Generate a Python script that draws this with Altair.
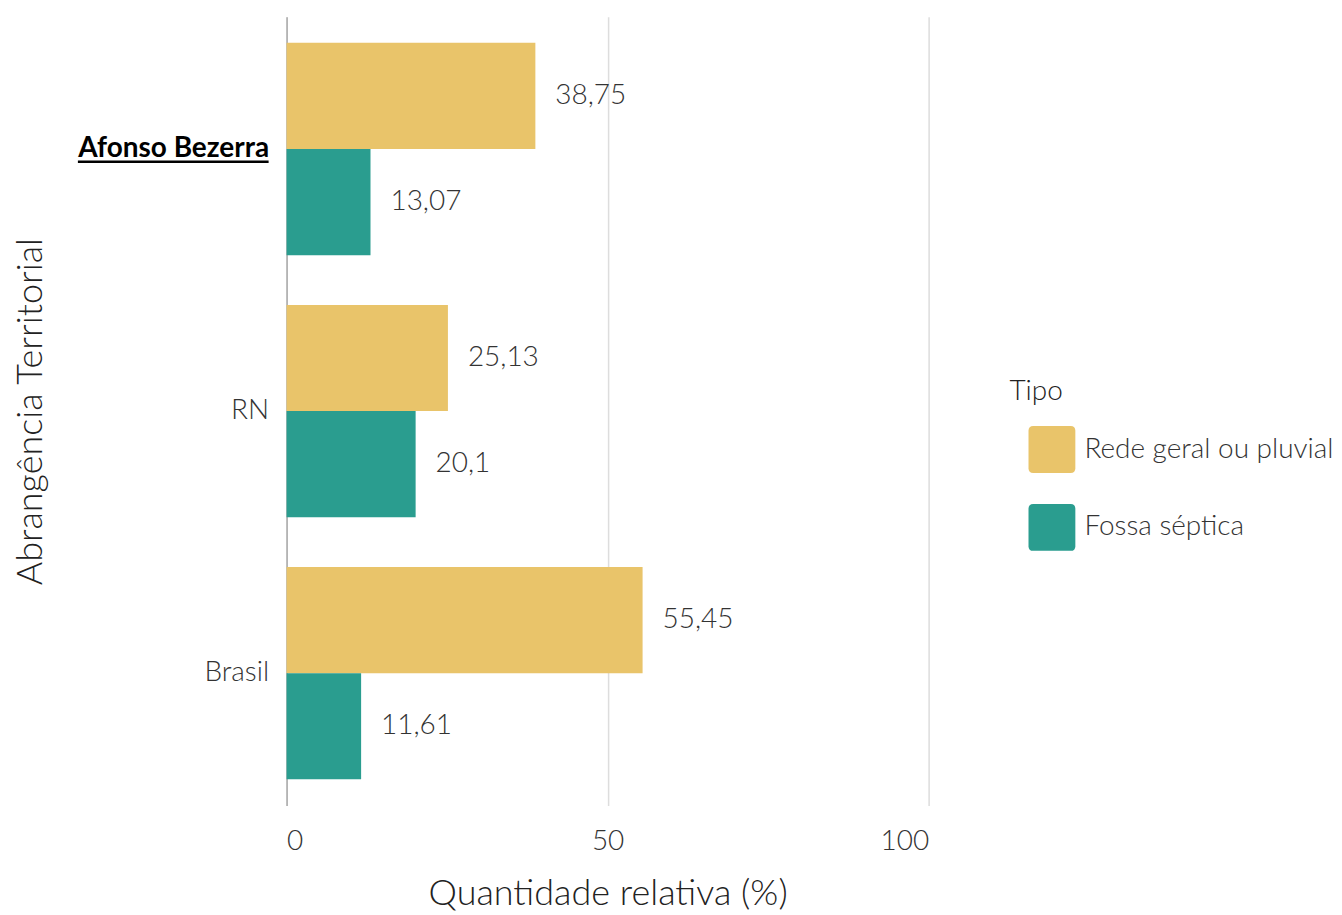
import altair as alt
import pandas as pd

regioes = ["Afonso Bezerra", "RN", "Brasil"]
tipos = ["Rede geral ou pluvial", "Fossa séptica"]
rede = [38.75, 25.13, 55.45]
fossa = [13.07, 20.1, 11.61]
cores = ["#E9C46A", "#2A9D8F"]
destaque = "Afonso Bezerra"

rows = []
for i, r in enumerate(regioes):
    rows.append({"regiao": r, "tipo": tipos[0], "valor": rede[i]})
    rows.append({"regiao": r, "tipo": tipos[1], "valor": fossa[i]})
df = pd.DataFrame(rows)

FONT = "'Lato Light', Lato"
rounded = ("M -0.8,-1 L 0.8,-1 Q 1,-1 1,-0.8 L 1,0.8 Q 1,1 0.8,1 L -0.8,1 "
           "Q -1,1 -1,0.8 L -1,-0.8 Q -1,-1 -0.8,-1 Z")
test = f"datum.value == '{destaque}'"

y_enc = alt.Y("regiao:N", sort=regioes,
              scale=alt.Scale(paddingInner=0.19, paddingOuter=0.1),
              axis=alt.Axis(title="Abrangência Territorial", titleFontSize=36,
                            titleFontWeight=300, titleColor="#222", titlePadding=37,
                            labelFontSize=28, labelPadding=18, ticks=False, labelLimit=400,
                            labelFont={"condition": {"test": test, "value": "Lato"}, "value": FONT},
                            labelFontWeight={"condition": {"test": test, "value": 700}, "value": 300},
                            labelColor={"condition": {"test": test, "value": "#000"}, "value": "#333"},
                            domain=True, domainColor="#aaa", domainWidth=1.5))
x_enc = alt.X("valor:Q", scale=alt.Scale(domain=[0, 100], nice=False),
              axis=alt.Axis(title="Quantidade relativa (%)", values=[0, 50, 100],
                            titleFontSize=36, titleFontWeight=300, titleColor="#222",
                            titlePadding=21, labelFontSize=28, labelFontWeight=300,
                            labelColor="#333", labelPadding=22, ticks=False,
                            domain=False, grid=True, gridColor="#ddd", gridWidth=1.5))
yoff = alt.YOffset("tipo:N", sort=tipos)

bars = alt.Chart(df).mark_bar().encode(
    y=y_enc, x=x_enc, yOffset=yoff,
    color=alt.Color("tipo:N", sort=tipos,
                    scale=alt.Scale(domain=tipos, range=cores),
                    legend=alt.Legend(title="Tipo", orient="none", legendX=724, legendY=362,
                                      titleFontSize=28, titleFontWeight=300, titleColor="#222",
                                      titlePadding=20, labelLimit=500,
                                      labelFontSize=28, labelFontWeight=300, labelColor="#333",
                                      labelOffset=9, symbolType=rounded, symbolSize=2200,
                                      symbolOffset=19, symbolStrokeWidth=0, symbolOpacity=1,
                                      rowPadding=31)),
)

text = alt.Chart(df).transform_calculate(
    rotulo="replace(toString(datum.valor), '.', ',')"
).mark_text(align="left", baseline="middle", dx=20, fontSize=28, fontWeight=300,
            color="#333").encode(
    y=alt.Y("regiao:N", sort=regioes), x="valor:Q", yOffset=yoff, text="rotulo:N"
)

# underline of the highlighted axis label
underline = alt.Chart(pd.DataFrame({"regiao": [destaque]})).mark_rule(
    color="#000", strokeWidth=2.5
).encode(
    y=alt.Y("regiao:N", sort=regioes, bandPosition=0.56),
    x=alt.value(-209), x2=alt.value(-18)
)

chart = alt.layer(bars, text, underline).properties(
    width=643, height=790,
    padding={"left": 5, "top": 8, "right": 0, "bottom": 0}
).configure(font=FONT).configure_view(stroke=None)

chart.save("out.html", embed_options={"renderer": "svg", "actions": False})
